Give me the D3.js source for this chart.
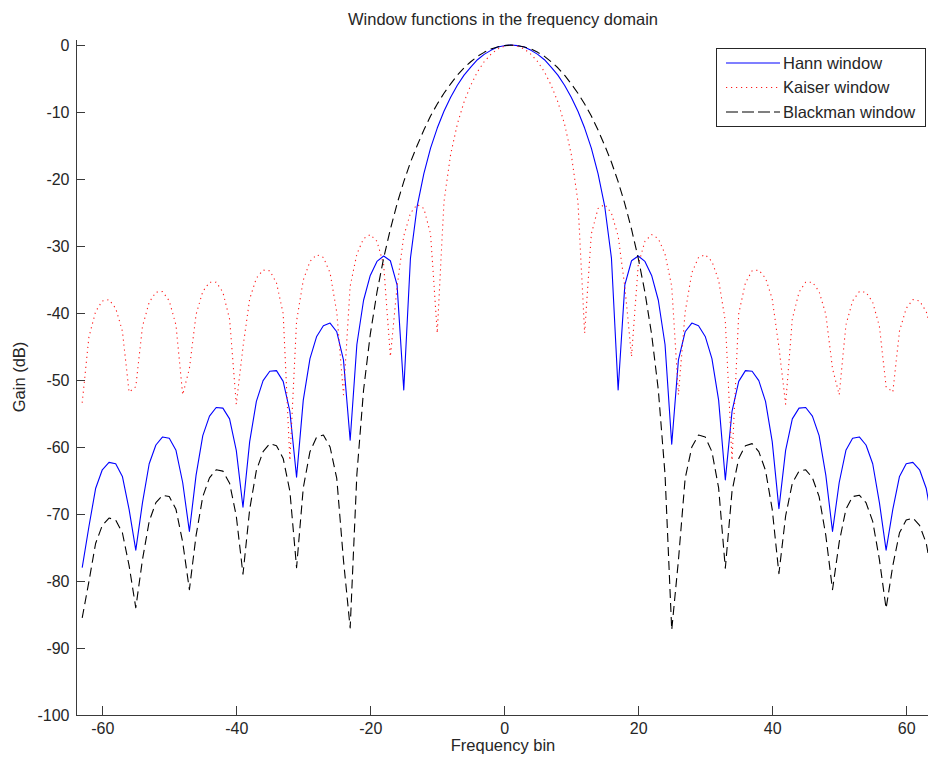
<!DOCTYPE html>
<html lang="en">
<head>
<meta charset="UTF-8">
<script src="https://d3js.org/d3.v7.min.js"></script>
<style>
    body { margin: 0; background: #fff; }
    #viz { display: block; background: #fff; }
    .axis path, .axis line {
        fill: none;
        stroke: #3a3a3a;
        stroke-width: 1px;
        shape-rendering: crispEdges;
    }
    .axis text {
        fill: #262626;
        font-family: "Liberation Sans", Arial, sans-serif;
        font-size: 16px;
    }
    .label {
        fill: #262626;
        font-family: "Liberation Sans", Arial, sans-serif;
        font-size: 16.5px;
    }
</style>
</head>
<body>
<svg id="viz" width="928" height="760"></svg>
<script>
// frequency bins -63 .. 64 (one sample per bin)
var bins = d3.range(-63, 65);

// gain in dB, one value per bin
var hann = [
    -78.0, -71.9, -66.2, -63.4, -62.3, -62.5, -64.4, -69.3,
    -75.4, -68.3, -62.5, -59.7, -58.5, -58.7, -60.5, -65.3,
    -72.6, -64.2, -58.3, -55.4, -54.1, -54.2, -55.8, -60.5,
    -69.0, -59.2, -53.2, -50.1, -48.7, -48.6, -50.2, -54.7,
    -64.5, -53.0, -46.8, -43.5, -41.9, -41.5, -42.8, -47.0,
    -59.0, -44.7, -38.1, -34.4, -32.3, -31.5, -32.2, -35.8,
    -51.5, -31.8, -24.1, -19.2, -15.4, -12.4, -9.9, -7.8,
    -6.0, -4.5, -3.3, -2.2, -1.4, -0.8, -0.3, -0.1,
    0,
    -0.1, -0.3, -0.8, -1.4, -2.2, -3.3, -4.5, -6.0,
    -7.8, -9.9, -12.4, -15.4, -19.2, -24.1, -31.8, -51.5,
    -35.8, -32.2, -31.5, -32.3, -34.4, -38.1, -44.7, -59.6,
    -47.0, -42.8, -41.5, -41.9, -43.5, -46.8, -53.0, -64.9,
    -54.7, -50.2, -48.6, -48.7, -50.1, -53.2, -59.2, -69.2,
    -60.5, -55.8, -54.2, -54.1, -55.4, -58.3, -64.2, -72.6,
    -65.3, -60.5, -58.7, -58.5, -59.7, -62.5, -68.3, -75.4,
    -69.3, -64.4, -62.5, -62.3, -63.4, -66.2, -71.9
];

var kaiser = [
    -53.4, -43.6, -39.8, -38.2, -38.0, -39.3, -42.7, -51.8,
    -51.0, -42.0, -38.4, -36.9, -36.8, -38.2, -41.8, -52.2,
    -48.3, -40.2, -36.8, -35.4, -35.4, -36.9, -40.9, -53.6,
    -45.1, -37.9, -34.8, -33.6, -33.7, -35.5, -40.1, -62.0,
    -41.2, -35.1, -32.3, -31.3, -31.7, -34.0, -39.9, -52.2,
    -36.0, -31.2, -28.9, -28.3, -29.3, -32.8, -46.5, -36.1,
    -28.5, -25.1, -23.8, -24.4, -28.2, -43.0, -23.4, -16.3,
    -11.8, -8.5, -6.0, -4.0, -2.5, -1.4, -0.6, -0.2,
    0,
    -0.2, -0.6, -1.4, -2.5, -4.0, -6.0, -8.5, -11.8,
    -16.3, -23.4, -43.0, -28.2, -24.4, -23.8, -25.1, -28.5,
    -36.1, -46.5, -32.8, -29.3, -28.3, -28.9, -31.2, -36.0,
    -52.2, -39.9, -34.0, -31.7, -31.3, -32.3, -35.1, -41.2,
    -62.0, -40.1, -35.5, -33.7, -33.6, -34.8, -37.9, -45.1,
    -53.6, -40.9, -36.9, -35.4, -35.4, -36.8, -40.2, -48.3,
    -52.2, -41.8, -38.2, -36.8, -36.9, -38.4, -42.0, -51.0,
    -51.8, -42.7, -39.3, -38.0, -38.2, -39.8, -43.6
];

var blackman = [
    -85.5, -80.1, -74.4, -71.7, -70.6, -70.9, -72.8, -77.7,
    -84.0, -76.8, -71.1, -68.3, -67.2, -67.4, -69.3, -74.2,
    -81.3, -73.2, -67.4, -64.6, -63.4, -63.6, -65.4, -70.3,
    -79.0, -69.3, -63.5, -60.7, -59.5, -59.8, -61.7, -66.6,
    -78.0, -66.1, -60.7, -58.5, -58.2, -60.0, -64.7, -76.9,
    -87.0, -64.1, -51.5, -43.2, -36.9, -31.8, -27.5, -23.7,
    -20.4, -17.5, -15.0, -12.7, -10.6, -8.8, -7.2, -5.8,
    -4.5, -3.4, -2.5, -1.7, -1.1, -0.6, -0.3, -0.1,
    0,
    -0.1, -0.3, -0.6, -1.1, -1.7, -2.5, -3.4, -4.5,
    -5.8, -7.2, -8.8, -10.6, -12.7, -15.0, -17.5, -20.4,
    -23.7, -27.5, -31.8, -36.9, -43.2, -51.5, -64.1, -87.3,
    -76.9, -64.7, -60.0, -58.2, -58.5, -60.7, -66.1, -78.1,
    -66.6, -61.7, -59.8, -59.5, -60.7, -63.5, -69.3, -78.9,
    -70.3, -65.4, -63.6, -63.4, -64.6, -67.4, -73.2, -81.3,
    -74.2, -69.3, -67.4, -67.2, -68.3, -71.1, -76.8, -84.1,
    -77.7, -72.8, -70.9, -70.6, -71.7, -74.4, -80.1
];

var seriesNames = ["Hann window", "Kaiser window", "Blackman window"];
var xTicks = [-60, -40, -20, 0, 20, 40, 60];
var yTicks = [0, -10, -20, -30, -40, -50, -60, -70, -80, -90, -100];

var svg = d3.select("#viz");

var x = d3.scaleLinear().domain([-64, 64]).range([75.5, 933]);
var y = d3.scaleLinear().domain([-100, 0.85]).range([715, 39.3]);

var series = [
    {name: seriesNames[0], values: hann, color: "#0000ff", dash: null, width: 1.1},
    {name: seriesNames[1], values: kaiser, color: "#ff1a1a", dash: "1.2,3.8", width: 1.1},
    {name: seriesNames[2], values: blackman, color: "#000000", dash: "9,5", width: 1.1}
];

// plain hyphen for negative labels, as in the original
var plain = function(d) { return String(d); };

// axes, ticks pointing inward like matlab
svg.append("g")
    .attr("class", "axis")
    .attr("transform", "translate(0," + y(-100) + ")")
    .call(d3.axisBottom(x).tickValues(xTicks).tickFormat(plain)
        .tickSizeInner(-9).tickSizeOuter(0).tickPadding(8));

svg.append("g")
    .attr("class", "axis")
    .attr("transform", "translate(" + x(-64) + ",0)")
    .call(d3.axisLeft(y).tickValues(yTicks).tickFormat(plain)
        .tickSizeInner(-9).tickSizeOuter(0).tickPadding(6));

var line = d3.line()
    .x(function(d, i) { return x(bins[i]); })
    .y(function(d) { return y(d); });

svg.append("g")
    .selectAll("path")
    .data(series)
    .enter().append("path")
        .attr("d", function(d) { return line(d.values); })
        .attr("fill", "none")
        .attr("stroke", function(d) { return d.color; })
        .attr("stroke-width", function(d) { return d.width; })
        .attr("stroke-dasharray", function(d) { return d.dash; })
        .attr("stroke-linejoin", "round");

// titles
svg.append("text")
    .attr("class", "label")
    .attr("x", 503)
    .attr("y", 25)
    .attr("text-anchor", "middle")
    .text("Window functions in the frequency domain");

svg.append("text")
    .attr("class", "label")
    .attr("x", 503)
    .attr("y", 751)
    .attr("text-anchor", "middle")
    .text("Frequency bin");

svg.append("text")
    .attr("class", "label")
    .attr("transform", "translate(25,377) rotate(-90)")
    .attr("text-anchor", "middle")
    .text("Gain (dB)");

// legend
var legend = svg.append("g").attr("transform", "translate(716,48)");

legend.append("rect")
    .attr("width", 209)
    .attr("height", 78)
    .attr("fill", "#fff")
    .attr("stroke", "#262626")
    .attr("stroke-width", 1)
    .attr("shape-rendering", "crispEdges");

var item = legend.selectAll(".item")
    .data(series)
    .enter().append("g")
        .attr("class", "item")
        .attr("transform", function(d, i) { return "translate(0," + (15 + i * 24.5) + ")"; });

item.append("line")
    .attr("x1", 10)
    .attr("x2", 64)
    .attr("stroke", function(d) { return d.color; })
    .attr("stroke-width", function(d) { return d.width; })
    .attr("stroke-dasharray", function(d, i) { return i == 2 ? "12,4" : d.dash; });

item.append("text")
    .attr("class", "label")
    .attr("x", 67)
    .attr("dy", "0.35em")
    .text(function(d) { return d.name; });
</script>
</body>
</html>
